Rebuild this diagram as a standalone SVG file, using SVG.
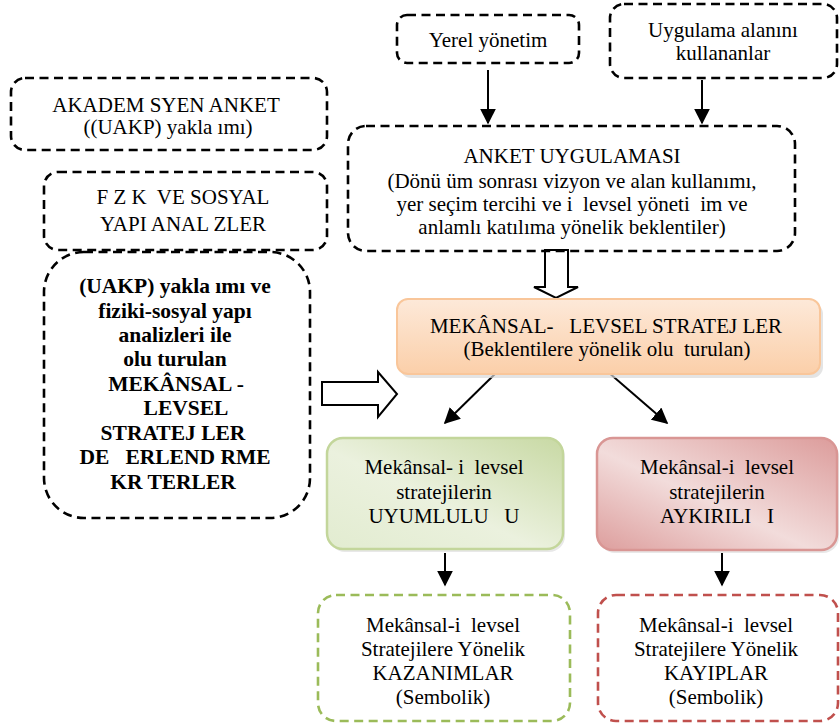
<svg xmlns="http://www.w3.org/2000/svg" width="840" height="724" viewBox="0 0 840 724">
<defs>
<style>
.dash{fill:none;stroke:#000;stroke-width:2.6;stroke-dasharray:9 5.5}
.gd{fill:none;stroke:#9bbb59;stroke-width:2.6;stroke-dasharray:9 5.5}
.rd{fill:none;stroke:#c0504d;stroke-width:2.6;stroke-dasharray:9 5.5}
.ln{stroke:#000;stroke-width:2;fill:none}
.blk{fill:#fff;stroke:#000;stroke-width:2}
</style>
<marker id="ah2" viewBox="0 0 10 10" refX="9" refY="5" markerWidth="16" markerHeight="16" markerUnits="userSpaceOnUse" orient="auto">
<path d="M0,0 L10,5 L0,10 z" fill="#000"/>
</marker>
<linearGradient id="og" x1="0" y1="0" x2="0" y2="1">
<stop offset="0" stop-color="#fde9d9"/>
<stop offset="1" stop-color="#fbcfa9"/>
</linearGradient>
<linearGradient id="gg" x1="0" y1="1" x2="1" y2="0">
<stop offset="0" stop-color="#e2ecd0"/>
<stop offset="0.45" stop-color="#ebf1de"/>
<stop offset="1" stop-color="#c8d9a4"/>
</linearGradient>
<linearGradient id="rg" x1="0" y1="1" x2="1" y2="0">
<stop offset="0" stop-color="#dd9e9d"/>
<stop offset="0.45" stop-color="#f2dcdb"/>
<stop offset="1" stop-color="#dc9c9b"/>
</linearGradient>
</defs>
<rect width="840" height="724" fill="#fff"/>

<g id="connectors">
<line class="ln" x1="488" y1="70" x2="488" y2="123" marker-end="url(#ah2)"/>
<line class="ln" x1="702" y1="80" x2="702" y2="123" marker-end="url(#ah2)"/>
<path class="blk" d="M545,250 L568,250 L568,287 L578,287 L556,298 L534,287 L545,287 Z"/>
<path class="blk" d="M322,382 L378,382 L378,372 L397,394 L378,417 L378,405 L322,405 Z"/>
<line class="ln" x1="497" y1="372" x2="445" y2="423" marker-end="url(#ah2)"/>
<line class="ln" x1="608" y1="372" x2="667" y2="423" marker-end="url(#ah2)"/>
<line class="ln" x1="445" y1="553" x2="445" y2="585" marker-end="url(#ah2)"/>
<line class="ln" x1="722" y1="553" x2="722" y2="585" marker-end="url(#ah2)"/>
</g>

<g id="yerel">
<rect class="dash" x="397" y="15" width="182" height="48" rx="10"/>
<text font-family="Liberation Serif" font-size="21" text-anchor="middle" xml:space="preserve" x="488" y="47">Yerel yönetim</text>
</g>

<g id="kullananlar">
<rect class="dash" x="610" y="4" width="227" height="74" rx="14"/>
<text font-family="Liberation Serif" font-size="21" text-anchor="middle" xml:space="preserve" x="723" y="37">Uygulama alanını</text>
<text font-family="Liberation Serif" font-size="21" text-anchor="middle" xml:space="preserve" x="723" y="60">kullananlar</text>
</g>

<g id="akademisyen">
<rect class="dash" x="11" y="78" width="316" height="72" rx="14"/>
<text font-family="Liberation Serif" font-size="21" text-anchor="middle" xml:space="preserve" x="166" y="112">AKADEM SYEN ANKET</text>
<text font-family="Liberation Serif" font-size="21" text-anchor="middle" xml:space="preserve" x="168" y="134">((UAKP) yakla ımı)</text>
</g>

<g id="fiziki">
<rect class="dash" x="44" y="172" width="283" height="78" rx="14"/>
<text font-family="Liberation Serif" font-size="21" text-anchor="middle" xml:space="preserve" x="183" y="204">F Z K  VE SOSYAL</text>
<text font-family="Liberation Serif" font-size="21" text-anchor="middle" xml:space="preserve" x="183" y="231">YAPI ANAL ZLER</text>
</g>

<g id="anket">
<rect class="dash" x="348" y="126" width="447" height="125" rx="18"/>
<text font-family="Liberation Serif" font-size="21" text-anchor="middle" xml:space="preserve" x="572" y="163">ANKET UYGULAMASI</text>
<text font-family="Liberation Serif" font-size="21" text-anchor="middle" xml:space="preserve" x="572" y="188">(Dönü üm sonrası vizyon ve alan kullanımı,</text>
<text font-family="Liberation Serif" font-size="21" text-anchor="middle" xml:space="preserve" x="572" y="211">yer seçim tercihi ve i  levsel yöneti  im ve</text>
<text font-family="Liberation Serif" font-size="21" text-anchor="middle" xml:space="preserve" x="572" y="234">anlamlı katılıma yönelik beklentiler)</text>
</g>

<g id="kriterler">
<rect class="dash" x="44" y="252" width="266" height="266" rx="40"/>
<text font-family="Liberation Serif" font-size="21.5" font-weight="bold" text-anchor="middle" xml:space="preserve" x="175" y="293">(UAKP) yakla ımı ve</text>
<text font-family="Liberation Serif" font-size="21.5" font-weight="bold" text-anchor="middle" xml:space="preserve" x="175" y="318">fiziki-sosyal yapı</text>
<text font-family="Liberation Serif" font-size="21.5" font-weight="bold" text-anchor="middle" xml:space="preserve" x="175" y="342">analizleri ile</text>
<text font-family="Liberation Serif" font-size="21.5" font-weight="bold" text-anchor="middle" xml:space="preserve" x="175" y="366">olu turulan</text>
<text font-family="Liberation Serif" font-size="21.5" font-weight="bold" text-anchor="middle" xml:space="preserve" x="176" y="391">MEKÂNSAL -</text>
<text font-family="Liberation Serif" font-size="21.5" font-weight="bold" text-anchor="middle" xml:space="preserve" x="186" y="415">LEVSEL</text>
<text font-family="Liberation Serif" font-size="21.5" font-weight="bold" text-anchor="middle" xml:space="preserve" x="173" y="440">STRATEJ LER</text>
<text font-family="Liberation Serif" font-size="21.5" font-weight="bold" text-anchor="middle" xml:space="preserve" x="175" y="464">DE   ERLEND RME</text>
<text font-family="Liberation Serif" font-size="21.5" font-weight="bold" text-anchor="middle" xml:space="preserve" x="173" y="489">KR TERLER</text>
</g>

<g id="stratejiler">
<rect x="400" y="303" width="423" height="75" rx="11" fill="#d9d9d9" opacity="0.7"/>
<rect x="397" y="299" width="423" height="75" rx="11" fill="url(#og)" stroke="#f9c69a" stroke-width="2"/>
<text font-family="Liberation Serif" font-size="21" text-anchor="middle" xml:space="preserve" x="606" y="333">MEKÂNSAL-   LEVSEL STRATEJ LER</text>
<text font-family="Liberation Serif" font-size="21" text-anchor="middle" xml:space="preserve" x="607" y="356">(Beklentilere yönelik olu  turulan)</text>
</g>

<g id="uyumluluk">
<rect x="329" y="441" width="236" height="111" rx="16" fill="#d9d9d9" opacity="0.6"/>
<rect x="327" y="438" width="236" height="111" rx="16" fill="url(#gg)" stroke="#c3d69b" stroke-width="2.5"/>
<text font-family="Liberation Serif" font-size="21" text-anchor="middle" xml:space="preserve" x="444" y="474">Mekânsal- i  levsel</text>
<text font-family="Liberation Serif" font-size="21" text-anchor="middle" xml:space="preserve" x="444" y="499">stratejilerin</text>
<text font-family="Liberation Serif" font-size="21" text-anchor="middle" xml:space="preserve" x="444" y="523">UYUMLULU   U</text>
</g>

<g id="aykirilik">
<rect x="599" y="441" width="240" height="112" rx="16" fill="#d9d9d9" opacity="0.6"/>
<rect x="597" y="438" width="240" height="112" rx="16" fill="url(#rg)" stroke="#d99694" stroke-width="2.5"/>
<text font-family="Liberation Serif" font-size="21" text-anchor="middle" xml:space="preserve" x="717" y="474">Mekânsal-i  levsel</text>
<text font-family="Liberation Serif" font-size="21" text-anchor="middle" xml:space="preserve" x="717" y="499">stratejilerin</text>
<text font-family="Liberation Serif" font-size="21" text-anchor="middle" xml:space="preserve" x="717" y="523">AYKIRILI   I</text>
</g>

<g id="kazanimlar">
<rect class="gd" x="318" y="595" width="252" height="126" rx="18"/>
<text font-family="Liberation Serif" font-size="21" text-anchor="middle" xml:space="preserve" x="443" y="632">Mekânsal-i  levsel</text>
<text font-family="Liberation Serif" font-size="21" text-anchor="middle" xml:space="preserve" x="443" y="656">Stratejilere Yönelik</text>
<text font-family="Liberation Serif" font-size="21" text-anchor="middle" xml:space="preserve" x="443" y="680">KAZANIMLAR</text>
<text font-family="Liberation Serif" font-size="21" text-anchor="middle" xml:space="preserve" x="443" y="704">(Sembolik)</text>
</g>

<g id="kayiplar">
<rect class="rd" x="598" y="595" width="240" height="126" rx="18"/>
<text font-family="Liberation Serif" font-size="21" text-anchor="middle" xml:space="preserve" x="716" y="632">Mekânsal-i  levsel</text>
<text font-family="Liberation Serif" font-size="21" text-anchor="middle" xml:space="preserve" x="716" y="656">Stratejilere Yönelik</text>
<text font-family="Liberation Serif" font-size="21" text-anchor="middle" xml:space="preserve" x="716" y="680">KAYIPLAR</text>
<text font-family="Liberation Serif" font-size="21" text-anchor="middle" xml:space="preserve" x="716" y="704">(Sembolik)</text>
</g>
</svg>
